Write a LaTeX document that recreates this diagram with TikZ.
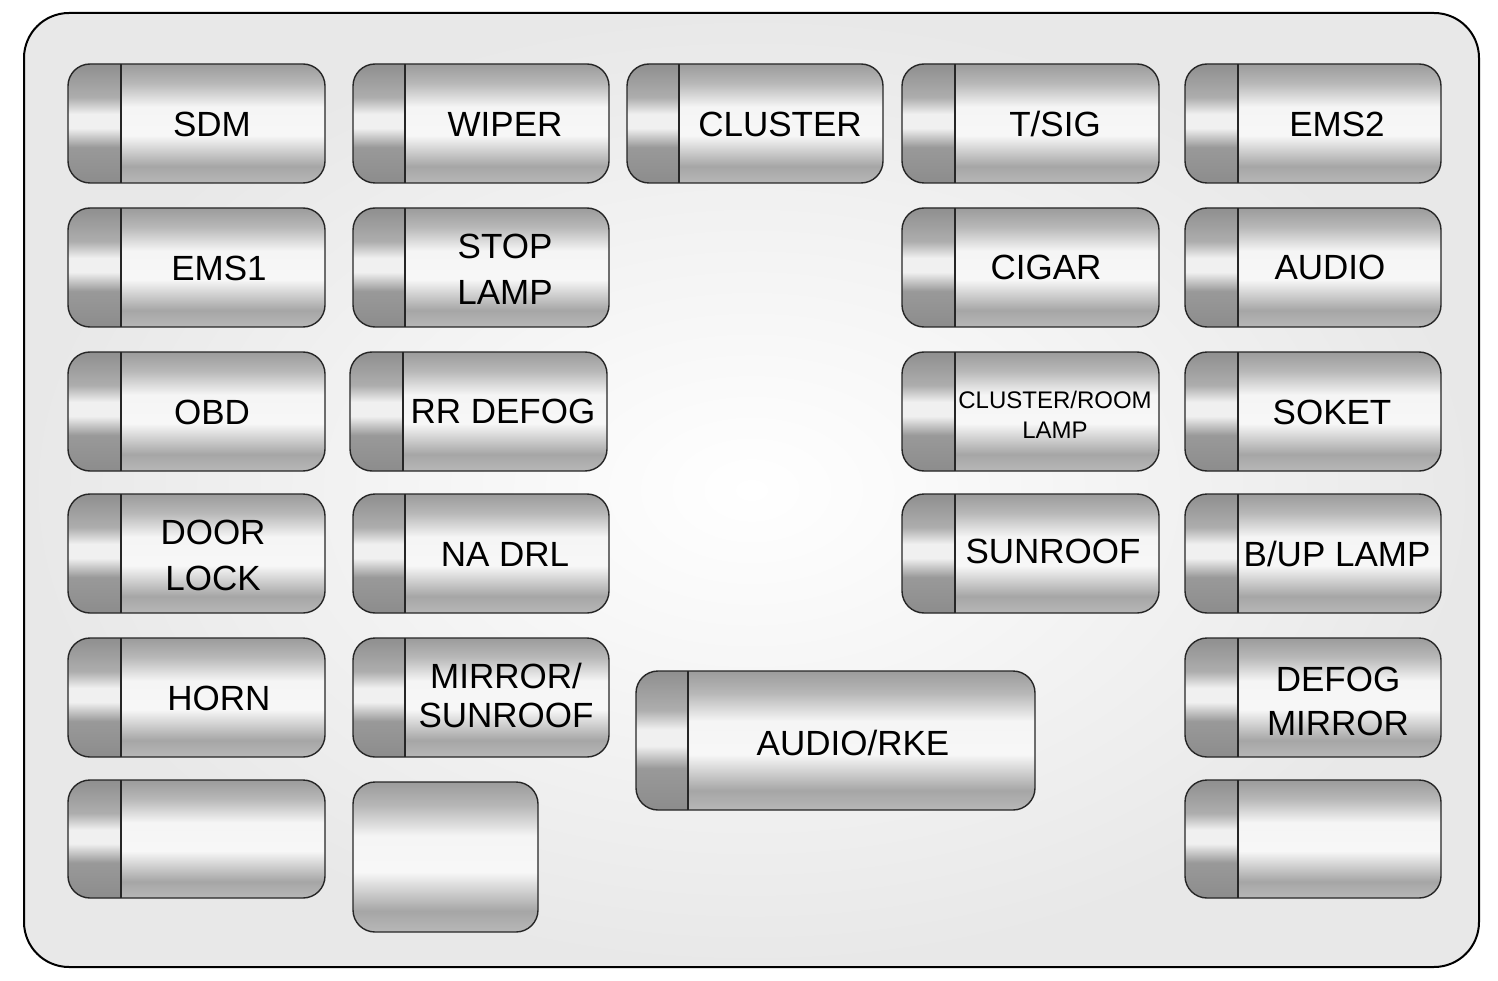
\documentclass[tikz,border=0pt]{standalone}
\usepackage{fontspec}
\setmainfont{Liberation Sans}
\pgfdeclareverticalshading{fbody}{100bp}{color(0bp)=(black!28); color(25bp)=(black!28); color(32bp)=(black!35); color(45bp)=(black!3); color(57bp)=(black!4); color(67bp)=(black!28); color(75bp)=(black!39); color(100bp)=(black!39)}
\pgfdeclareverticalshading{fcap}{100bp}{color(0bp)=(black!45); color(25bp)=(black!45); color(40bp)=(black!40); color(48bp)=(black!6); color(54bp)=(black!6); color(61bp)=(black!32); color(75bp)=(black!44); color(100bp)=(black!44)}
\tikzset{
  fuseline/.style={draw=black!85, line width=1.4pt},
  lbl/.style={font=\fontsize{35}{44}\selectfont, align=center, inner sep=0pt},
  lblsmall/.style={font=\fontsize{24}{30}\selectfont, align=center, inner sep=0pt},
}
\newcommand\fusebox[5]{%
  \shade[shading=fbody, rounded corners=22pt] (#1,#2) rectangle (#3,#4);
  \begin{scope}
    \clip (#1,#2) rectangle (#5,#4);
    \shade[shading=fcap, rounded corners=22pt] (#1,#2) rectangle (#3,#4);
  \end{scope}
  \draw[fuseline, rounded corners=22pt] (#1,#2) rectangle (#3,#4);
  \draw[fuseline] (#5,#2) -- (#5,#4);
}
\begin{document}
\begin{tikzpicture}[x=1pt,y=-1pt]
\useasboundingbox (0,0) rectangle (1498,981);
\fill[white] (0,0) rectangle (1498,981);
% panel
\shade[inner color=white, outer color=black!9, rounded corners=45pt] (24,13) rectangle (1479,967);
\draw[line width=2pt, rounded corners=45pt] (24,13) rectangle (1479,967);
% column 1
\fusebox{68}{64}{325}{183}{121}
\fusebox{68}{208}{325}{327}{121}
\fusebox{68}{352}{325}{471}{121}
\fusebox{68}{494}{325}{613}{121}
\fusebox{68}{638}{325}{757}{121}
\fusebox{68}{780}{325}{898}{121}
% column 2
\fusebox{353}{64}{609}{183}{405}
\fusebox{353}{208}{609}{327}{405}
\fusebox{350}{352}{607}{471}{403}
\fusebox{353}{494}{609}{613}{405}
\fusebox{353}{638}{609}{757}{405}
\shade[shading=fbody, rounded corners=22pt] (353,782) rectangle (538,932);
\draw[fuseline, rounded corners=22pt] (353,782) rectangle (538,932);
% column 3
\fusebox{627}{64}{883}{183}{679}
\fusebox{636}{671}{1035}{810}{688}
% column 4
\fusebox{902}{64}{1159}{183}{955}
\fusebox{902}{208}{1159}{327}{955}
\fusebox{902}{352}{1159}{471}{955}
\fusebox{902}{494}{1159}{613}{955}
% column 5
\fusebox{1185}{64}{1441}{183}{1238}
\fusebox{1185}{208}{1441}{327}{1238}
\fusebox{1185}{352}{1441}{471}{1238}
\fusebox{1185}{494}{1441}{613}{1238}
\fusebox{1185}{638}{1441}{757}{1238}
\fusebox{1185}{780}{1441}{898}{1238}
% labels
\node[lbl] (sdm) at (212,124) {SDM};
\node[lbl] (wiper) at (505,124) {WIPER};
\node[lbl] (cluster) at (780,124) {CLUSTER};
\node[lbl] (tsig) at (1055,124) {T/SIG};
\node[lbl] (ems2) at (1337,124) {EMS2};
\node[lbl] (ems1) at (219,268) {EMS1};
\node[lbl, font=\fontsize{35}{46}\selectfont] (stoplamp) at (505,269) {STOP\\LAMP};
\node[lbl] (cigar) at (1046,267) {CIGAR};
\node[lbl] (audio) at (1330,267) {AUDIO};
\node[lbl] (obd) at (212,412) {OBD};
\node[lbl] (rrdefog) at (503,411) {RR DEFOG};
\node[lblsmall] (clroom) at (1055,415) {CLUSTER/ROOM\\LAMP};
\node[lbl] (soket) at (1332,412) {SOKET};
\node[lbl, font=\fontsize{35}{46}\selectfont] (doorlock) at (213,555) {DOOR\\LOCK};
\node[lbl] (nadrl) at (505,554) {NA DRL};
\node[lbl] (sunroof) at (1053,551) {SUNROOF};
\node[lbl] (buplamp) at (1337,554) {B/UP LAMP};
\node[lbl] (horn) at (219,698) {HORN};
\node[lbl, font=\fontsize{35}{39}\selectfont] (mirsun) at (506,695) {MIRROR/\\SUNROOF};
\node[lbl] (audiorke) at (853,743) {AUDIO/RKE};
\node[lbl] (defogmir) at (1338,701) {DEFOG\\MIRROR};
\end{tikzpicture}
\end{document}
